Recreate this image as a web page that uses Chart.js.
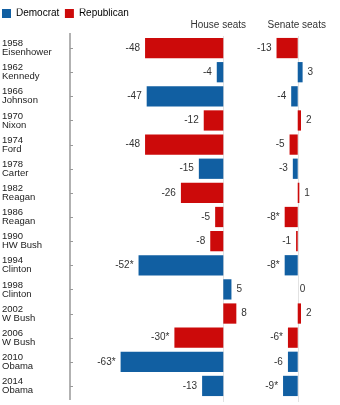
<!DOCTYPE html>
<html>
<head>
<meta charset="utf-8">
<script src="https://cdn.jsdelivr.net/npm/chart.js@4"></script>
<style>
  html, body { margin: 0; padding: 0; background: #fff; }
  #wrap { width: 340px; height: 405px; }
</style>
</head>
<body>
<div id="wrap"><canvas id="chart" width="340" height="405"></canvas></div>
<script>
// Midterm seat changes for the president's party
const years = ['1958', '1962', '1966', '1970', '1974', '1978', '1982', '1986', '1990', '1994', '1998', '2002', '2006', '2010', '2014'];
const presidents = ['Eisenhower', 'Kennedy', 'Johnson', 'Nixon', 'Ford', 'Carter', 'Reagan', 'Reagan', 'HW Bush', 'Clinton', 'Clinton', 'W Bush', 'W Bush', 'Obama', 'Obama'];
const party = ['R', 'D', 'D', 'R', 'R', 'D', 'R', 'R', 'R', 'D', 'D', 'R', 'R', 'D', 'D'];
const houseSeats = [-48, -4, -47, -12, -48, -15, -26, -5, -8, -52, 5, 8, -30, -63, -13];
const senateSeats = [-13, 3, -4, 2, -5, -3, 1, -8, -1, -8, 0, 2, -6, -6, -9];
const houseStar = [false, false, false, false, false, false, false, false, false, true, false, false, true, true, false];
const senateStar = [false, false, false, false, false, false, false, true, false, true, false, false, true, false, true];

const BLUE = '#115fa2';
const RED = '#cc0a0a';
const FONT = '"Liberation Sans", Arial, sans-serif';

const rowLabels = years.map((y, i) => [y, presidents[i]]);
const barColors = party.map(p => p === 'D' ? BLUE : RED);

// axis line, zero lines, tick marks, value labels and column headers
const decorations = {
  id: 'decorations',
  beforeDatasetsDraw(chart) {
    const { ctx, chartArea } = chart;
    ctx.save();
    ctx.strokeStyle = '#e2e2e2';
    ctx.lineWidth = 1;
    ['x', 'x2'].forEach(id => {
      const x0 = Math.round(chart.scales[id].getPixelForValue(0)) + 0.5;
      ctx.beginPath();
      ctx.moveTo(x0, chartArea.top);
      ctx.lineTo(x0, chartArea.bottom + 4);
      ctx.stroke();
    });
    // y axis line with small ticks on the inside
    const yScale = chart.scales.y;
    ctx.strokeStyle = '#999';
    ctx.lineWidth = 1.5;
    ctx.beginPath();
    ctx.moveTo(chartArea.left, chartArea.top - 3);
    ctx.lineTo(chartArea.left, chartArea.bottom + 2);
    ctx.stroke();
    ctx.lineWidth = 1;
    yScale.ticks.forEach((t, i) => {
      const y = Math.round(yScale.getPixelForTick(i)) + 0.5;
      ctx.beginPath();
      ctx.moveTo(chartArea.left, y);
      ctx.lineTo(chartArea.left + 3, y);
      ctx.stroke();
    });
    ctx.restore();
  },
  afterDatasetsDraw(chart) {
    const { ctx } = chart;
    ctx.save();
    ctx.font = '10px ' + FONT;
    ctx.fillStyle = '#333';
    ctx.textBaseline = 'middle';
    const stars = [houseStar, senateStar];
    chart.data.datasets.forEach((ds, di) => {
      chart.getDatasetMeta(di).data.forEach((bar, i) => {
        const v = ds.data[i];
        const txt = String(v) + (stars[di][i] ? '*' : '');
        if (v < 0) {
          ctx.textAlign = 'right';
          ctx.fillText(txt, bar.x - 5, bar.y);
        } else {
          ctx.textAlign = 'left';
          ctx.fillText(txt, bar.x + (v === 0 ? 2 : 5), bar.y);
        }
      });
    });
    // column headers
    ctx.textAlign = 'center';
    ctx.fillText('House seats', chart.scales.x.getPixelForValue(0) - 5, 25.5);
    ctx.fillText('Senate seats', chart.scales.x2.getPixelForValue(0) - 1, 25.5);
    ctx.restore();
  }
};

new Chart(document.getElementById('chart'), {
  type: 'bar',
  data: {
    labels: rowLabels,
    datasets: [
      {
        label: 'House seats',
        data: houseSeats,
        xAxisID: 'x',
        backgroundColor: barColors,
        borderWidth: 0
      },
      {
        label: 'Senate seats',
        data: senateSeats,
        xAxisID: 'x2',
        backgroundColor: barColors,
        borderWidth: 0
      }
    ]
  },
  options: {
    indexAxis: 'y',
    responsive: false,
    animation: false,
    grouped: false,
    barPercentage: 0.84,
    categoryPercentage: 1,
    layout: { padding: { left: 2, top: 8.5, right: 0, bottom: 7 } },
    scales: {
      y: {
        type: 'category',
        position: 'left',
        afterFit: s => { s.width = 68; s.paddingTop = 0; s.paddingBottom = 0; },
        grid: { display: false },
        border: { display: false },
        ticks: {
          crossAlign: 'far',
          color: '#222',
          font: { family: FONT, size: 9.5, lineHeight: 0.95 }
        }
      },
      x: {
        type: 'linear',
        position: 'top',
        min: -94.05,
        max: 71.6,
        afterFit: s => { s.height = 7.5; },
        grid: { display: false },
        border: { display: false },
        ticks: { display: false }
      },
      x2: {
        type: 'linear',
        axis: 'x',
        position: 'top',
        display: false,
        min: -139.7,
        max: 25.94
      }
    },
    plugins: {
      tooltip: { enabled: false },
      legend: {
        position: 'top',
        align: 'start',
        labels: {
          padding: 0,
          boxWidth: 9,
          boxHeight: 9,
          color: '#333',
          font: { family: FONT, size: 10 },
          generateLabels: () => [
            { text: 'Democrat  ', fillStyle: BLUE, strokeStyle: BLUE, lineWidth: 0 },
            { text: 'Republican', fillStyle: RED, strokeStyle: RED, lineWidth: 0 }
          ]
        }
      }
    }
  },
  plugins: [decorations]
});
</script>
</body>
</html>
